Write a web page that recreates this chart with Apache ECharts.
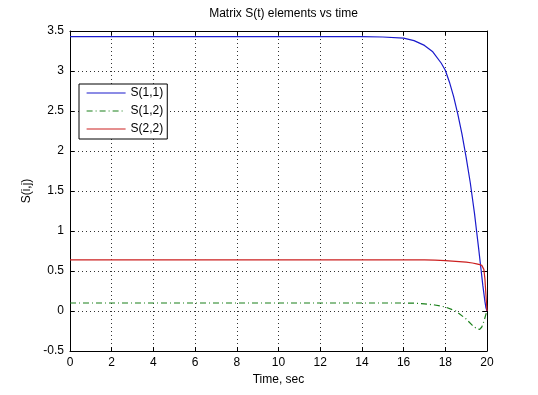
<!DOCTYPE html>
<html>
<head>
<meta charset="utf-8">
<script src="https://cdn.jsdelivr.net/npm/echarts@6/dist/echarts.min.js"></script>
<style>
html,body{margin:0;padding:0;background:#fff;}
#chart{width:538px;height:395px;}
</style>
</head>
<body>
<div id="chart"></div>
<script>
// Data
var t11 = [0, 2, 4, 6, 8, 10, 12, 14, 15, 16, 16.5, 17, 17.4, 17.8, 18, 18.2, 18.4, 18.6, 18.8, 19, 19.2, 19.4, 19.5, 19.6, 19.7, 19.8, 19.9, 19.95, 20];
var s11 = [3.43, 3.43, 3.43, 3.43, 3.43, 3.43, 3.43, 3.43, 3.425, 3.41, 3.38, 3.32, 3.24, 3.10, 3.01, 2.86, 2.68, 2.46, 2.21, 1.92, 1.60, 1.22, 1.00, 0.78, 0.55, 0.32, 0.12, 0.04, 0];

var t12 = [0, 2, 4, 6, 8, 10, 12, 14, 16, 16.5, 17, 17.5, 18, 18.5, 19, 19.3, 19.5, 19.65, 19.75, 19.85, 19.95, 20];
var s12 = [0.1, 0.1, 0.1, 0.1, 0.1, 0.1, 0.1, 0.1, 0.1, 0.098, 0.09, 0.075, 0.05, 0.0, -0.1, -0.18, -0.22, -0.23, -0.2, -0.13, -0.04, 0];

var t22 = [0, 2, 4, 6, 8, 10, 12, 14, 16, 17, 17.5, 18, 18.5, 19, 19.3, 19.5, 19.65, 19.75, 19.8, 19.85, 19.9, 19.95, 20];
var s22 = [0.64, 0.64, 0.64, 0.64, 0.64, 0.64, 0.64, 0.64, 0.64, 0.638, 0.635, 0.63, 0.62, 0.61, 0.60, 0.59, 0.58, 0.57, 0.56, 0.52, 0.40, 0.20, 0];

var seriesNames = ['S(1,1)', 'S(1,2)', 'S(2,2)'];
var xTicks = {min: 0, max: 20, interval: 2};
var yTicks = {min: -0.5, max: 3.5, interval: 0.5};

function pairs(t, v) { return t.map(function (x, i) { return [x, v[i]]; }); }

var FONT = '"Liberation Sans", Arial, Helvetica, sans-serif';
var chart = echarts.init(document.getElementById('chart'), null, {renderer: 'canvas'});

function axisCommon(showLabel, ticks) {
  return {
    type: 'value',
    min: ticks.min, max: ticks.max, interval: ticks.interval,
    axisLine: {show: true, onZero: false, lineStyle: {color: '#000', width: 1}},
    axisTick: {show: true, inside: true, length: 4, lineStyle: {color: '#000'}},
    axisLabel: {show: showLabel, color: '#000', fontSize: 12, fontFamily: FONT, margin: 6},
    splitLine: {show: false}
  };
}

var xBottom = axisCommon(true, xTicks);
xBottom.position = 'bottom';
xBottom.splitLine = {show: true, lineStyle: {color: '#333', type: [1, 3], width: 1}};
xBottom.name = 'Time, sec';
xBottom.nameLocation = 'middle';
xBottom.nameGap = 20;
xBottom.nameTextStyle = {color: '#000', fontSize: 12, fontFamily: FONT};
var xTop = axisCommon(false, xTicks);
xTop.position = 'top';

var yLeft = axisCommon(true, yTicks);
yLeft.position = 'left';
yLeft.splitLine = {show: true, lineStyle: {color: '#333', type: [1, 3], width: 1}};
yLeft.name = 'S(i,j)';
yLeft.nameLocation = 'middle';
yLeft.nameRotate = 90;
yLeft.nameGap = 27;
yLeft.nameTextStyle = {color: '#000', fontSize: 12, fontFamily: FONT};
var yRight = axisCommon(false, yTicks);
yRight.position = 'right';

var colors = ['#1a1acc', '#1a801a', '#cc2020'];
var dashes = ['solid', [6, 3, 1, 3], 'solid'];
var dataSets = [pairs(t11, s11), pairs(t12, s12), pairs(t22, s22)];

chart.setOption({
  animation: false,
  backgroundColor: '#fff',
  title: {
    text: 'Matrix S(t) elements vs time',
    left: 278.5, textAlign: 'center', top: 3,
    textStyle: {color: '#000', fontSize: 12, fontWeight: 'normal', fontFamily: FONT}
  },
  grid: {left: 70, right: 51, top: 31, bottom: 44, containLabel: false},
  xAxis: [xBottom, xTop],
  yAxis: [yLeft, yRight],
  legend: {
    data: seriesNames,
    orient: 'vertical',
    left: 79, top: 84,
    backgroundColor: '#fff',
    borderColor: '#000', borderWidth: 1, borderRadius: 0,
    padding: [3, 4, 4, 7],
    itemGap: 6, itemWidth: 39, itemHeight: 12,
    itemStyle: {opacity: 0},
    lineStyle: {width: 1.2},
    textStyle: {color: '#000', fontSize: 12, fontFamily: FONT}
  },
  series: seriesNames.map(function (n, i) {
    return {
      name: n, type: 'line', xAxisIndex: 0, yAxisIndex: 0,
      data: dataSets[i], symbol: 'none', showSymbol: false, smooth: false,
      lineStyle: {color: colors[i], width: 1.2, type: dashes[i]},
      itemStyle: {color: colors[i]}
    };
  })
});
</script>
</body>
</html>
